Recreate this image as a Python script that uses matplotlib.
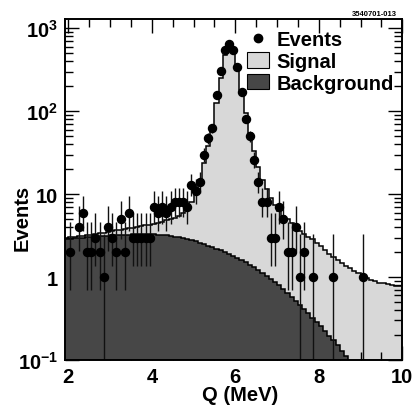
import numpy as np
import matplotlib
matplotlib.use("Agg")
import matplotlib.pyplot as plt
from matplotlib.lines import Line2D
from matplotlib.patches import Patch
from matplotlib.ticker import MultipleLocator, LogLocator, FixedLocator, FuncFormatter

plt.rcParams['font.family'] = ['Liberation Sans', 'DejaVu Sans']
plt.rcParams['font.weight'] = 'bold'
plt.rcParams['mathtext.fontset'] = 'custom'
plt.rcParams['mathtext.rm'] = 'Liberation Sans:bold'
plt.rcParams['mathtext.bf'] = 'Liberation Sans:bold'
plt.rcParams['mathtext.it'] = 'Liberation Sans:bold'

# ---------------- data ----------------
# histogram bins (0.1 MeV wide), range of the fit histograms
bin_edges = np.round(np.arange(1.9, 10.0001, 0.1), 2)

# background component per bin (centres 1.95 ... 9.95)
background = [2.86, 2.89, 2.92, 2.95, 2.98, 3.01, 3.04, 3.07, 3.10, 3.13,
              3.15, 3.18, 3.20, 3.22, 3.24, 3.26, 3.27, 3.28, 3.29, 3.29,
              3.29, 3.28, 3.26, 3.23, 3.19, 3.14, 3.08, 3.01, 2.94, 2.86,
              2.78, 2.69, 2.60, 2.50, 2.40, 2.30, 2.20, 2.10, 2.00, 1.90,
              1.80, 1.70, 1.60, 1.50, 1.40, 1.31, 1.22, 1.13, 1.04, 0.96,
              0.88, 0.80, 0.72, 0.65, 0.58, 0.52, 0.46, 0.41, 0.365, 0.325,
              0.29, 0.255, 0.225, 0.197, 0.172, 0.15, 0.13, 0.112, 0.096, 0.082,
              0.07, 0.06, 0.05, 0.043, 0.036, 0.03, 0.025, 0.021, 0.017, 0.014,
              0.012]

# signal + background (total fit) per bin
total = [2.98, 3.02, 3.06, 3.10, 3.15, 3.20, 3.25, 3.31, 3.37, 3.44,
         3.51, 3.58, 3.65, 3.72, 3.79, 3.86, 3.94, 4.02, 4.10, 4.19,
         4.29, 4.40, 4.52, 4.66, 4.82, 5.00, 5.20, 5.50, 5.90, 6.60,
         8.0, 10.5, 15.0, 24.0, 38.0, 66.0, 125.0, 250.0, 470.0, 630.0,
         560.0, 340.0, 180.0, 95.0, 55.0, 33.0, 21.0, 15.0, 11.5, 9.0,
         7.3, 6.2, 5.5, 5.0, 4.5, 4.0, 3.6, 3.3, 3.05, 2.85,
         2.6, 2.35, 2.1, 1.9, 1.73, 1.6, 1.48, 1.37, 1.28, 1.2,
         1.12, 1.04, 0.98, 0.93, 0.89, 0.86, 0.84, 0.82, 0.80, 0.79,
         0.78]

# observed events
evt_q = [2.05, 2.25, 2.35, 2.45, 2.55, 2.65, 2.75, 2.85, 2.95, 3.05,
         3.15, 3.25, 3.35, 3.45, 3.55, 3.65, 3.75, 3.85, 3.95, 4.05,
         4.15, 4.25, 4.35, 4.45, 4.55, 4.65, 4.75, 4.85, 4.95, 5.05,
         5.15, 5.25, 5.35, 5.45, 5.55, 5.65, 5.75, 5.85, 5.95, 6.05,
         6.15, 6.25, 6.35, 6.45, 6.55, 6.65, 6.75, 6.85, 6.95, 7.05,
         7.15, 7.25, 7.35, 7.45, 7.55, 7.65, 7.85, 8.35, 9.05]
evt_n = [2, 4, 6, 2, 2, 3, 2, 1, 4, 3,
         2, 5, 2, 6, 3, 3, 3, 3, 3, 7,
         6, 7, 6, 7, 8, 8, 8, 7, 13, 11,
         14, 30, 47, 62, 157, 308, 552, 650, 552, 339,
         169, 81, 50, 26, 14, 8, 8, 3, 3, 7,
         5, 2, 2, 4, 1, 2, 1, 1, 1]

# Poisson (Garwood 68%) interval bounds for small counts
garwood = {1: (0.0001, 3.300), 2: (0.708, 4.638), 3: (1.367, 5.918),
           4: (2.086, 7.163), 5: (2.840, 8.382), 6: (3.620, 9.584),
           7: (4.419, 10.77), 8: (5.232, 11.95)}

tick_labels_y = {1000: r'$\mathbf{10^{3}}$', 100: r'$\mathbf{10^{2}}$',
                 10: '10', 1: '1', 0.1: r'$\mathbf{10^{-1}}$'}
x_tick_labels = ['2', '4', '6', '8', '10']

light = '#d8d8d8'
dark = '#474747'

# ---------------- figure ----------------
W, H = 419, 406
fig = plt.figure(figsize=(W / 100, H / 100), dpi=100)
ax = fig.add_axes([65 / W, 45 / H, 337.3 / W, 340.7 / H])

ax.stairs(total, bin_edges, fill=True, color=light, baseline=1e-4, zorder=1)
ax.stairs(background, bin_edges, fill=True, color=dark, baseline=1e-4, zorder=2)
ax.stairs(total, bin_edges, fill=False, color='black', lw=1.1, baseline=None, zorder=3)
ax.stairs(background, bin_edges, fill=False, color='black', lw=1.1, baseline=None, zorder=3)

lo, hi = [], []
for n in evt_n:
    if n in garwood:
        a, b = garwood[n]
    else:
        a, b = n - np.sqrt(n), n + np.sqrt(n) + 1
    lo.append(n - a)
    hi.append(b - n)
ax.errorbar(evt_q, evt_n, yerr=[lo, hi], fmt='o', ms=5.8, color='black',
            ecolor='#111111', elinewidth=1.0, capsize=0, zorder=5)

ax.set_yscale('log')
ax.set_xlim(1.92, 10.0)
ax.set_ylim(0.1, 1284)

ax.xaxis.set_major_locator(FixedLocator([2, 4, 6, 8, 10]))
ax.set_xticklabels(x_tick_labels)
ax.xaxis.set_minor_locator(MultipleLocator(0.5))
ax.yaxis.set_major_locator(LogLocator(base=10, numticks=20))
ax.yaxis.set_minor_locator(LogLocator(base=10, subs=np.arange(2, 10), numticks=20))
ax.yaxis.set_major_formatter(FuncFormatter(
    lambda v, p: tick_labels_y.get(round(v, 6) if v < 1 else int(round(v)), '')))

ax.tick_params(which='both', direction='in', top=True, right=True, width=1.0,
               labelsize=14.5, colors='black')
ax.tick_params(which='major', length=10, pad=5)
ax.tick_params(which='minor', length=5.5)
for lab in ax.get_xticklabels() + ax.get_yticklabels():
    lab.set_fontweight('bold')
for s in ax.spines.values():
    s.set_linewidth(1.4)
    s.set_zorder(10)

ax.set_xlabel('Q (MeV)', fontsize=14.5, fontweight='bold')
ax.xaxis.set_label_coords(0.52, -0.072)
ax.set_ylabel('Events', fontsize=14.5, fontweight='bold')
ax.yaxis.set_label_coords(-0.098, 0.42)

handles = [Line2D([], [], marker='o', ls='none', color='black', ms=6),
           Patch(facecolor=light, edgecolor='black', lw=0.8),
           Patch(facecolor=dark, edgecolor='black', lw=0.8)]
leg = ax.legend(handles, ['Events', 'Signal', 'Background'], loc='upper left',
                bbox_to_anchor=(247 / W, 1 - 31 / H), bbox_transform=fig.transFigure,
                frameon=False, prop={'size': 14.5, 'weight': 'bold'},
                handlelength=1.1, handleheight=0.8, handletextpad=0.35,
                labelspacing=0.14, borderpad=0, borderaxespad=0)

fig.text(397 / W, 1 - 15 / H, '3540701-013', ha='right', va='center',
         fontsize=5.5, fontweight='bold')

fig.savefig('out.png', dpi=100)
